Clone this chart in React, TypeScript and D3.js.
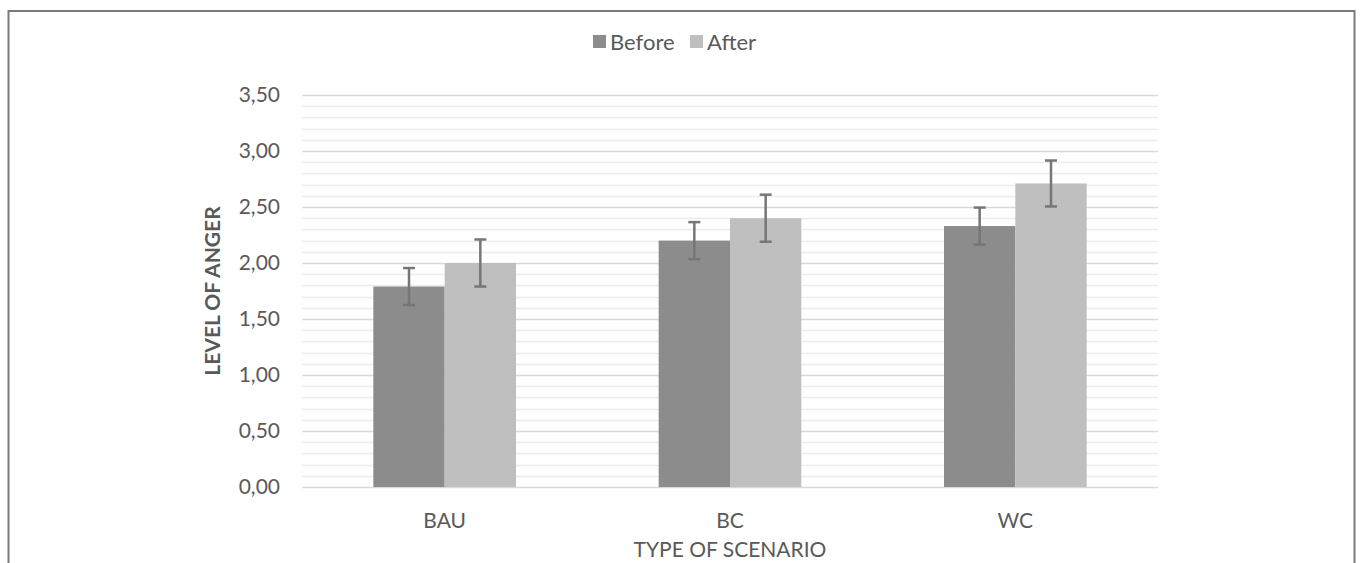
import { useEffect, useRef } from "react"
import * as d3 from "d3"

const categories = ["BAU", "BC", "WC"]
const seriesNames = ["Before", "After"]
const beforeValues = [1.79, 2.2, 2.33]
const afterValues = [2.0, 2.4, 2.71]
const beforeErrors = [0.165, 0.165, 0.165]
const afterErrors = [0.21, 0.21, 0.205]
const yTicks = [0, 0.5, 1, 1.5, 2, 2.5, 3, 3.5]

const colors = ["#8c8c8c", "#bfbfbf"]
const font = "Lato, 'Open Sans', sans-serif"

const App = () => {
  const ref = useRef<SVGSVGElement>(null)

  useEffect(() => {
    if (!ref.current) return
    const svg = d3.select(ref.current)
    svg.selectAll("*").remove()

    const left = 302
    const right = 1158
    const top = 95
    const bottom = 487

    // frame
    svg
      .append("rect")
      .attr("x", 8.5)
      .attr("y", 11)
      .attr("width", 1346)
      .attr("height", 600)
      .attr("fill", "none")
      .attr("stroke", "#7a7a7a")
      .attr("stroke-width", 2)

    const y = d3.scaleLinear().domain([0, 3.5]).range([bottom, top])
    const x = d3.scaleBand().domain(categories).range([left, right]).paddingInner(0.5).paddingOuter(0.25)
    const xs = d3.scaleBand().domain(seriesNames).range([0, x.bandwidth()])

    // minor gridlines
    const minor = d3.range(0, 36).map((d) => d / 10).filter((d) => Math.round(d * 10) % 5 !== 0)
    svg
      .append("g")
      .selectAll("line")
      .data(minor)
      .join("line")
      .attr("x1", left)
      .attr("x2", right)
      .attr("y1", (d) => Math.round(y(d)) + 0.5)
      .attr("y2", (d) => Math.round(y(d)) + 0.5)
      .attr("stroke", "#ececec")
      .attr("stroke-width", 1.5)

    svg
      .append("g")
      .selectAll("line")
      .data(yTicks)
      .join("line")
      .attr("x1", left)
      .attr("x2", right)
      .attr("y1", (d) => Math.round(y(d)) + 0.5)
      .attr("y2", (d) => Math.round(y(d)) + 0.5)
      .attr("stroke", "#d9d9d9")
      .attr("stroke-width", 1.5)

    // y labels
    svg
      .append("g")
      .selectAll("text")
      .data(yTicks)
      .join("text")
      .attr("x", 280)
      .attr("y", (d) => y(d))
      .attr("dy", "0.35em")
      .attr("text-anchor", "end")
      .attr("font-family", font)
      .attr("font-size", 21)
      .attr("fill", "#595959")
      .text((d) => d3.format(".2f")(d).replace(".", ","))

    const rows = categories.map((c, i) => ({
      cat: c,
      vals: [
        { s: seriesNames[0], v: beforeValues[i], e: beforeErrors[i], c: colors[0] },
        { s: seriesNames[1], v: afterValues[i], e: afterErrors[i], c: colors[1] },
      ],
    }))

    const groups = svg
      .append("g")
      .selectAll("g")
      .data(rows)
      .join("g")
      .attr("transform", (d) => `translate(${x(d.cat)},0)`)

    groups
      .selectAll("rect")
      .data((d) => d.vals)
      .join("rect")
      .attr("x", (d) => xs(d.s)!)
      .attr("width", xs.bandwidth())
      .attr("y", (d) => y(d.v))
      .attr("height", (d) => y(0) - y(d.v))
      .attr("fill", (d) => d.c)

    const err = groups
      .selectAll("g.err")
      .data((d) => d.vals)
      .join("g")
      .attr("class", "err")
      .attr("stroke", "#767676")
      .attr("stroke-width", 2.5)
    err
      .append("line")
      .attr("x1", (d) => xs(d.s)! + xs.bandwidth() / 2)
      .attr("x2", (d) => xs(d.s)! + xs.bandwidth() / 2)
      .attr("y1", (d) => y(d.v + d.e))
      .attr("y2", (d) => y(d.v - d.e))
    err
      .selectAll("line.cap")
      .data((d) => [
        { cx: xs(d.s)! + xs.bandwidth() / 2, yy: y(d.v + d.e) },
        { cx: xs(d.s)! + xs.bandwidth() / 2, yy: y(d.v - d.e) },
      ])
      .join("line")
      .attr("class", "cap")
      .attr("x1", (d) => d.cx - 6)
      .attr("x2", (d) => d.cx + 6)
      .attr("y1", (d) => d.yy)
      .attr("y2", (d) => d.yy)

    // category labels
    svg
      .append("g")
      .selectAll("text")
      .data(categories)
      .join("text")
      .attr("x", (d) => x(d)! + x.bandwidth() / 2)
      .attr("y", 521)
      .attr("dy", "0.35em")
      .attr("text-anchor", "middle")
      .attr("font-family", font)
      .attr("font-size", 21)
      .attr("fill", "#595959")
      .text((d) => d)

    svg
      .append("text")
      .attr("x", (left + right) / 2)
      .attr("y", 550)
      .attr("dy", "0.35em")
      .attr("text-anchor", "middle")
      .attr("font-family", font)
      .attr("font-size", 21)
      .attr("fill", "#595959")
      .text("TYPE OF SCENARIO")

    svg
      .append("text")
      .attr("transform", `translate(213,${(top + bottom) / 2}) rotate(-90)`)
      .attr("dy", "0.35em")
      .attr("text-anchor", "middle")
      .attr("font-family", font)
      .attr("font-size", 21)
      .attr("font-weight", 700)
      .attr("fill", "#595959")
      .text("LEVEL OF ANGER")

    // legend
    const legendItems = [
      { name: seriesNames[0], c: colors[0], x: 593 },
      { name: seriesNames[1], c: colors[1], x: 690 },
    ]
    const lg = svg.append("g").selectAll("g").data(legendItems).join("g")
    lg.append("rect")
      .attr("x", (d) => d.x)
      .attr("y", 35)
      .attr("width", 13)
      .attr("height", 13)
      .attr("fill", (d) => d.c)
    lg.append("text")
      .attr("x", (d) => d.x + 17)
      .attr("y", 42)
      .attr("dy", "0.35em")
      .attr("font-family", font)
      .attr("font-size", 22)
      .attr("fill", "#595959")
      .text((d) => d.name)
  }, [])

  return (
    <svg
      ref={ref}
      width={1360}
      height={563}
      style={{ position: "absolute", left: 0, top: 0, background: "#fff" }}
    />
  )
}

export default App
